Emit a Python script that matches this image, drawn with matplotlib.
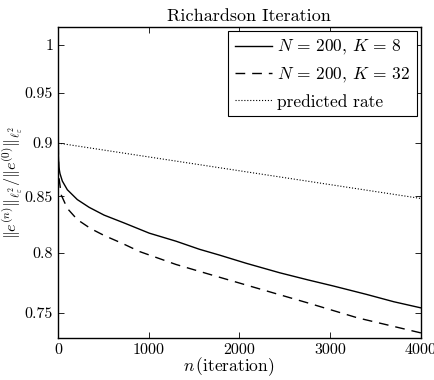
import numpy as np
import matplotlib
matplotlib.use("Agg")
import matplotlib.pyplot as plt
from matplotlib.ticker import FixedLocator, FixedFormatter, NullLocator

plt.rcParams['font.family'] = ['cmr10', 'DejaVu Serif']
plt.rcParams['mathtext.fontset'] = 'cm'
plt.rcParams['axes.unicode_minus'] = False
plt.rcParams['axes.formatter.use_mathtext'] = True

# values (relative error vs iteration)
n_k8 = [0, 2, 5, 10, 22, 48, 103, 213, 343, 508, 729, 1006, 1300, 1558, 1779,
        2074, 2442, 2755, 3031, 3400, 3700, 4000]
err_k8 = [1.0, 0.93, 0.888, 0.877, 0.871, 0.864, 0.856, 0.847, 0.840, 0.833, 0.826,
          0.817, 0.810, 0.803, 0.798, 0.791, 0.783, 0.777, 0.772, 0.765, 0.759, 0.754]

n_k32 = [0, 2, 5, 11, 37, 103, 213, 361, 508, 711, 900, 1300, 1700, 2200, 2755, 3300, 4000]
err_k32 = [1.0, 0.92, 0.885, 0.867, 0.851, 0.839, 0.829, 0.821, 0.815, 0.808, 0.801,
           0.790, 0.781, 0.770, 0.758, 0.746, 0.734]

n_pred = [0, 4000]
err_pred = [0.9, 0.848]

xticks = [0, 1000, 2000, 3000, 4000]
yticks = [0.75, 0.8, 0.85, 0.9, 0.95, 1.0]
ytick_labels = ['0.75', '0.8', '0.85', '0.9', '0.95', '1']

fig = plt.figure(figsize=(4.34, 3.8), dpi=100)
ax = fig.add_axes([0.1336, 0.1105, 0.8364, 0.8185])

ax.semilogy(n_k8, err_k8, 'k-', lw=1.0, label=r'$N\,=\,200,\,K\,=\,8$')
ax.semilogy(n_k32, err_k32, 'k--', lw=1.0, dashes=(7, 5), label=r'$N\,=\,200,\,K\,=\,32$')
ax.semilogy(n_pred, err_pred, 'k:', lw=0.8, label='predicted rate')

ax.set_xlim(0, 4000)
ax.set_ylim(0.730, 1.0195)
ax.set_xticks(xticks)
ax.set_xticklabels([str(t) for t in xticks])
ax.yaxis.set_major_locator(FixedLocator(yticks))
ax.yaxis.set_major_formatter(FixedFormatter(ytick_labels))
ax.yaxis.set_minor_locator(NullLocator())

ax.tick_params(direction='in', top=True, right=True, labelsize=11.5, length=4, width=0.6)
for s in ax.spines.values():
    s.set_linewidth(1.0)

ax.set_title('Richardson Iteration', fontsize=13, pad=4, x=0.527)
ax.set_xlabel(r'$n\,$(iteration)', fontsize=12.5, labelpad=1)
ax.xaxis.set_label_coords(0.47, -0.055)
ax.set_ylabel(r'$\|e^{(n)}\|_{\ell^2_\varepsilon}/\|e^{(0)}\|_{\ell^2_\varepsilon}$', fontsize=11.5)
ax.yaxis.set_label_coords(-0.09, 0.5)

leg = ax.legend(loc='upper right', fontsize=12.5, fancybox=False, framealpha=1,
                edgecolor='k', borderaxespad=0.25, handlelength=2.1, handletextpad=0.3,
                labelspacing=0.5, borderpad=0.4)
leg.get_frame().set_linewidth(0.8)

fig.savefig('out.png', dpi=100)
